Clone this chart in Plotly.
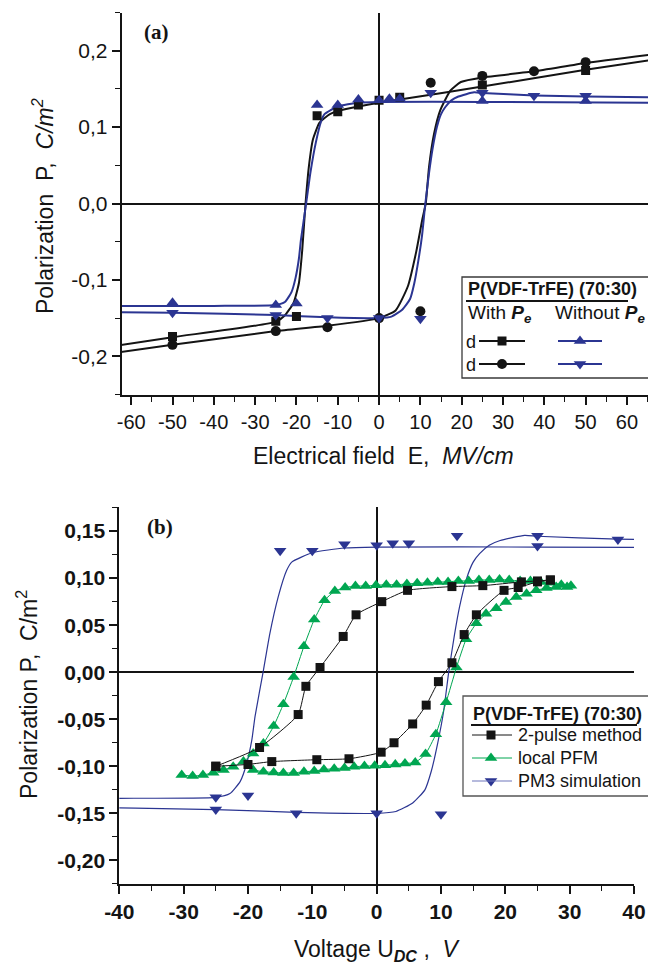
import plotly.graph_objects as go

# ---------------- Panel (a) data: E (MV/cm), P (C/m^2) ----------------
sq_E = [-50, -25, -20, -15, -10, -5, 0, 5, 25, 50]
sq_P = [-0.174, -0.154, -0.148, 0.115, 0.120, 0.129, 0.135, 0.139, 0.155, 0.174]
ci_E = [-50, -25, -12.5, 0, 10, 12.5, 25, 37.5, 50]
ci_P = [-0.185, -0.167, -0.162, -0.150, -0.141, 0.158, 0.167, 0.173, 0.185]
up_E = [-50, -25, -20, -15, -10, -5, 0, 2.5, 5, 25, 50]
up_P = [-0.130, -0.133, -0.131, 0.129, 0.129, 0.136, 0.135, 0.137, 0.137, 0.134, 0.134]
dn_E = [-50, -25, -12.5, 0, 10, 12.5, 25, 37.5, 50]
dn_P = [-0.143, -0.146, -0.150, -0.150, -0.151, 0.145, 0.145, 0.141, 0.141]

# fitted curves
fit_sq_E = [66, 50, 25, 5, 0, -5, -10, -11.9, -14.4, -16.0, -17.0, -17.8, -18.6, -19.4, -20.7, -22.9, -25, -50, -66]
fit_sq_P = [0.188, 0.175, 0.153, 0.136, 0.132, 0.127, 0.121, 0.117, 0.106, 0.084, 0.048, 0.0, -0.061, -0.104, -0.130, -0.147, -0.155, -0.175, -0.188]
fit_ci_E = [-66, -50, -25, -12.5, 0, 4, 7, 9, 10.5, 11.3, 12.1, 13.3, 14.8, 17.3, 19.8, 25, 37.5, 50, 66]
fit_ci_P = [-0.197, -0.185, -0.167, -0.160, -0.150, -0.140, -0.108, -0.063, -0.020, 0.0, 0.048, 0.091, 0.122, 0.148, 0.159, 0.165, 0.173, 0.184, 0.195]
fit_up_E = [-66, -40, -25, -22.8, -21.2, -20.2, -19.4, -18.9, -17.6, -16.6, -15.3, -14.0, -13.2, -10, -5, 0, 25, 66]
fit_up_P = [-0.134, -0.134, -0.133, -0.129, -0.116, -0.097, -0.072, -0.047, 0.002, 0.041, 0.080, 0.108, 0.117, 0.127, 0.132, 0.133, 0.133, 0.132]
fit_dn_E = [-66, -50, -25, -12.5, 0, 3.0, 5.6, 7.5, 8.5, 9.5, 10.4, 11.2, 12.1, 12.9, 14.0, 15.0, 16.0, 17.5, 19.2, 23, 25, 37.5, 50, 66]
fit_dn_P = [-0.142, -0.143, -0.146, -0.149, -0.150, -0.148, -0.139, -0.125, -0.105, -0.075, -0.042, 0.0, 0.040, 0.070, 0.100, 0.117, 0.126, 0.135, 0.140, 0.1455, 0.1445, 0.1415, 0.140, 0.139]

# ---------------- Panel (b) data: U (V), P (C/m^2) ----------------
pulse_down_U = [27, 25, 22.5, 16.5, 11.7, 4.8, 0.8, -3.2, -5.2, -8.8, -11, -12.2, -18.2, -25]
pulse_down_P = [0.098, 0.097, 0.096, 0.092, 0.091, 0.087, 0.075, 0.061, 0.038, 0.005, -0.015, -0.045, -0.080, -0.100]
pulse_up_U = [-25, -20, -16.3, -9.3, -4.3, 0.7, 2.7, 5.6, 7.7, 9.6, 11.7, 13.6, 15.5, 19.8, 22, 25, 27]
pulse_up_P = [-0.100, -0.098, -0.095, -0.093, -0.092, -0.085, -0.075, -0.055, -0.035, -0.010, 0.010, 0.040, 0.061, 0.087, 0.090, 0.096, 0.098]

pfm_down_U = [30.2, 28.7, 27.1, 25.5, 23.9, 22.3, 20.6, 19.1, 17.5, 15.9, 14.3, 12.7, 11.1, 9.5, 7.9, 6.3, 4.7, 3.1, 1.5, -0.1,
              -1.7, -3.3, -4.9, -6.5, -8.1, -9.7, -11.3, -12.9, -14.5, -16.0, -17.6, -19.2, -20.7, -22.3, -23.8, -25.4, -27.0, -28.6, -30.3]
pfm_down_P = [0.092, 0.093, 0.095, 0.096, 0.097, 0.097, 0.098, 0.0985, 0.098, 0.098, 0.097, 0.097, 0.096, 0.0958, 0.095, 0.0945, 0.0937, 0.093, 0.093, 0.0924,
              0.0916, 0.0916, 0.090, 0.0863, 0.0764, 0.056, 0.0276, -0.005, -0.034, -0.0573, -0.0757, -0.0864, -0.095, -0.1005, -0.104, -0.1069, -0.1093, -0.1104, -0.1093]
pfm_up_U = [-19.2, -17.6, -16.0, -14.5, -12.9, -11.3, -9.7, -8.2, -6.6, -5.0, -3.5, -1.9, -0.3, 1.3, 2.9, 4.4, 6.0, 7.6, 9.2, 10.8,
            12.4, 13.9, 15.5, 17.0, 18.6, 20.1, 21.7, 23.3, 24.8, 26.4, 27.9, 29.6]
pfm_up_P = [-0.104, -0.1058, -0.1065, -0.107, -0.107, -0.1058, -0.105, -0.1035, -0.1025, -0.1018, -0.1005, -0.0998, -0.0995, -0.099, -0.098, -0.097, -0.096, -0.087, -0.066, -0.032,
            0.005, 0.035, 0.052, 0.062, 0.068, 0.0746, 0.080, 0.0835, 0.087, 0.0895, 0.0906, 0.0906]

# tick labels
a_xticks = [-60, -50, -40, -30, -20, -10, 0, 10, 20, 30, 40, 50, 60]
a_yticks = [-0.2, -0.1, 0.0, 0.1, 0.2]
a_ytext = ["-0,2", "-0,1", "0,0", "0,1", "0,2"]
b_xticks = [-40, -30, -20, -10, 0, 10, 20, 30, 40]
b_yticks = [-0.20, -0.15, -0.10, -0.05, 0.00, 0.05, 0.10, 0.15]
b_ytext = ["-0,20", "-0,15", "-0,10", "-0,05", "0,00", "0,05", "0,10", "0,15"]

# ---------------- styling ----------------
W, H = 648, 967
BLACK = "#141414"
BLUE = "#2b3592"
BLUE_L = "#6f76bb"
GREEN = "#00a651"
SANS = "Liberation Sans Narrow, Arial Narrow, Liberation Sans, Arial, sans-serif"
SERIF = "Liberation Serif, Times New Roman, serif"


def PX(x):
    return x / W


def PY(y):
    return 1 - y / H


fig = go.Figure()


def add(x, y, ax, **kw):
    fig.add_trace(go.Scatter(x=x, y=y, xaxis="x" + ax, yaxis="y" + ax,
                             showlegend=False, hoverinfo="skip", **kw))


# panel (a) curves
add(fit_sq_E, fit_sq_P, "", mode="lines", line=dict(color=BLACK, width=2, shape="spline", smoothing=0.5))
add(fit_ci_E, fit_ci_P, "", mode="lines", line=dict(color=BLACK, width=2, shape="spline", smoothing=0.5))
add(fit_up_E, fit_up_P, "", mode="lines", line=dict(color=BLUE, width=2, shape="spline", smoothing=0.5))
add(fit_dn_E, fit_dn_P, "", mode="lines", line=dict(color=BLUE, width=2, shape="spline", smoothing=0.5))
add(sq_E, sq_P, "", mode="markers", marker=dict(symbol="square", color=BLACK, size=9))
add(ci_E, ci_P, "", mode="markers", marker=dict(symbol="circle", color=BLACK, size=10))
add(up_E, up_P, "", mode="markers", marker=dict(symbol="triangle-up", color=BLUE, size=11))
add(dn_E, dn_P, "", mode="markers", marker=dict(symbol="triangle-down", color=BLUE, size=11))

# panel (b) curves
add(fit_up_E, fit_up_P, "2", mode="lines", line=dict(color=BLUE, width=1.2, shape="spline", smoothing=0.5))
add(fit_dn_E, fit_dn_P, "2", mode="lines", line=dict(color=BLUE, width=1.2, shape="spline", smoothing=0.5))
add(up_E + dn_E, up_P + dn_P, "2", mode="markers", marker=dict(symbol="triangle-down", color=BLUE, size=11))
add(pfm_down_U, pfm_down_P, "2", mode="lines+markers", line=dict(color=GREEN, width=1, shape="spline", smoothing=0.4),
    marker=dict(symbol="triangle-up", color=GREEN, size=11))
add(pfm_up_U, pfm_up_P, "2", mode="lines+markers", line=dict(color=GREEN, width=1, shape="spline", smoothing=0.4),
    marker=dict(symbol="triangle-up", color=GREEN, size=11))
add(pulse_down_U, pulse_down_P, "2", mode="lines+markers", line=dict(color=BLACK, width=1, shape="spline", smoothing=0.5),
    marker=dict(symbol="square", color=BLACK, size=9))
add(pulse_up_U, pulse_up_P, "2", mode="lines+markers", line=dict(color=BLACK, width=1, shape="spline", smoothing=0.5),
    marker=dict(symbol="square", color=BLACK, size=9))

# legend markers on a full-page overlay axis (pixel coordinates)
add([502], [341], "3", mode="markers", marker=dict(symbol="square", color=BLACK, size=9))
add([502], [364], "3", mode="markers", marker=dict(symbol="circle", color=BLACK, size=10))
add([580], [341], "3", mode="markers", marker=dict(symbol="triangle-up", color=BLUE, size=11))
add([580], [364], "3", mode="markers", marker=dict(symbol="triangle-down", color=BLUE, size=11))
add([491], [735], "3", mode="markers", marker=dict(symbol="square", color=BLACK, size=9))
add([491], [758], "3", mode="markers", marker=dict(symbol="triangle-up", color=GREEN, size=11))
add([491], [781], "3", mode="markers", marker=dict(symbol="triangle-down", color=BLUE, size=11))

tick_a = dict(family=SANS, size=20, color=BLACK)
tick_ay = dict(family=SANS, size=21, color=BLACK)
tick_b = dict(family=SANS, size=21, color=BLACK, weight="bold")

common = dict(showline=True, linewidth=2, linecolor=BLACK, ticks="outside", ticklen=8, tickwidth=1.6,
              tickcolor=BLACK, showgrid=False, zeroline=True, zerolinecolor=BLACK, zerolinewidth=2,
              mirror=False, automargin=False, fixedrange=True)

fig.update_layout(
    width=W, height=H, autosize=False,
    margin=dict(l=0, r=0, t=0, b=0, pad=0),
    paper_bgcolor="white", plot_bgcolor="rgba(0,0,0,0)",
    showlegend=False,
    xaxis=dict(domain=[PX(121.7), 1.0], range=[-62.3, 65.1], anchor="y",
               tickmode="array", tickvals=a_xticks, ticktext=[str(v) for v in a_xticks], tickfont=tick_a,
               minor=dict(tickmode="linear", tick0=-65, dtick=10, ticks="outside", ticklen=5, tickwidth=1.4, tickcolor=BLACK),
               **common),
    yaxis=dict(domain=[PY(394.5), PY(12.5)], range=[-0.25, 0.25], anchor="x",
               tickmode="array", tickvals=a_yticks, ticktext=a_ytext, tickfont=tick_ay,
               minor=dict(tickmode="linear", tick0=-0.25, dtick=0.1, ticks="outside", ticklen=5, tickwidth=1.4, tickcolor=BLACK),
               **common),
    xaxis2=dict(domain=[PX(119.3), PX(634)], range=[-40, 40], anchor="y2",
                tickmode="array", tickvals=b_xticks, ticktext=[str(v) for v in b_xticks], tickfont=tick_b,
                minor=dict(tickmode="linear", tick0=-35, dtick=10, ticks="outside", ticklen=5, tickwidth=1.4, tickcolor=BLACK),
                **common),
    yaxis2=dict(domain=[PY(884), PY(506.7)], range=[-0.2251, 0.1759], anchor="x2",
                tickmode="array", tickvals=b_yticks, ticktext=b_ytext, tickfont=tick_b,
                minor=dict(tickmode="linear", tick0=-0.225, dtick=0.05, ticks="outside", ticklen=5, tickwidth=1.4, tickcolor=BLACK),
                **common),
    xaxis3=dict(domain=[0, 1], range=[0, W], visible=False, anchor="y3", fixedrange=True),
    yaxis3=dict(domain=[0, 1], range=[H, 0], visible=False, anchor="x3", fixedrange=True),
)

NB = "\u00a0"
ann = []


def text(x, y, s, size=20, family=SANS, xanchor="center", angle=0, color=BLACK):
    ann.append(dict(x=PX(x), y=PY(y), xref="paper", yref="paper", text=s, showarrow=False,
                    xanchor=xanchor, yanchor="middle", textangle=angle,
                    font=dict(family=family, size=size, color=color)))


# panel labels
text(156, 32, "<b>(a)</b>", size=21, family=SERIF)
text(160, 527, "<b>(b)</b>", size=21, family=SERIF)
# axis titles
text(383, 456, "Electrical field" + NB + " E," + NB + " <i>MV/cm</i>", size=23)
text(43, 206, "Polarization" + NB * 2 + "P," + NB * 2 + "<i>C/m<sup>2</sup></i>", size=23, angle=-90)
text(377, 950, "Voltage U<sub><b><i>DC</i></b></sub> ," + NB * 2 + "<i>V</i>", size=23)
text(27, 695, "Polarization P," + NB * 2 + "C/m<sup>2</sup>", size=23, angle=-90)

# legend (a)
text(466, 289, "<b>P(VDF-TrFE) (70:30)</b>", size=18, xanchor="left")
text(466, 314, "With <b><i>P</i></b><sub><b><i>e</i></b></sub>", size=19, xanchor="left")
text(553, 314, "Without <b><i>P</i></b><sub><b><i>e</i></b></sub>", size=19, xanchor="left")
text(464, 342, "d", size=18, xanchor="left")
text(464, 365, "d", size=18, xanchor="left")
# legend (b)
text(471, 714, "<b>P(VDF-TrFE) (70:30)</b>", size=18, xanchor="left")
text(516, 735, "2-pulse method", size=18, xanchor="left")
text(516, 758, "local PFM", size=18, xanchor="left")
text(516, 781, "PM3 simulation", size=18, xanchor="left")

shapes = []


def rect(x0, y0, x1, y1, color="#3a3a3a", width=1.3):
    shapes.append(dict(type="rect", xref="paper", yref="paper", x0=PX(x0), x1=PX(x1), y0=PY(y1), y1=PY(y0),
                       line=dict(color=color, width=width), fillcolor="white", layer="below"))


def seg(x0, y0, x1, y1, color=BLACK, width=1.5):
    shapes.append(dict(type="line", xref="paper", yref="paper", x0=PX(x0), x1=PX(x1), y0=PY(y0), y1=PY(y1),
                       line=dict(color=color, width=width), layer="above"))


rect(462, 277, 660, 378)
rect(463, 696, 660, 796, color="#555555")
seg(466, 301, 628, 301, width=1.8)
seg(479, 341, 525, 341, width=2)
seg(479, 364, 525, 364, width=2)
seg(558, 341, 602, 341, color=BLUE, width=2)
seg(558, 364, 602, 364, color=BLUE, width=2)
seg(471, 725, 637, 725, width=1.8)
seg(472, 735, 512, 735, width=1)
seg(472, 758, 512, 758, color=GREEN, width=1)
seg(472, 781, 512, 781, color=BLUE_L, width=1.2)

fig.update_layout(annotations=ann, shapes=shapes)
fig.write_html("out.html")
